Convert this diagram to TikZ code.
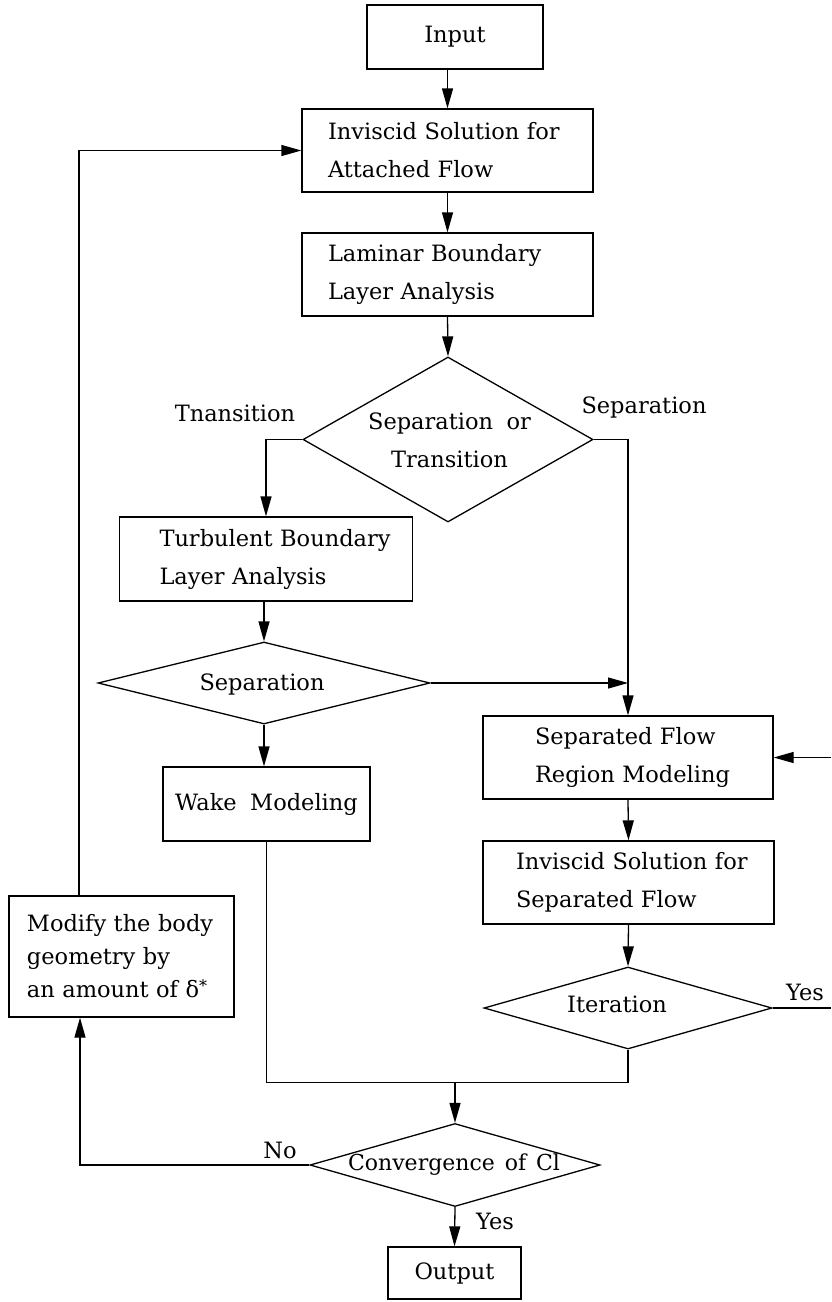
\documentclass[tikz,border=0pt]{standalone}
\usepackage{fontspec}
\newfontfamily\dserif{DejaVu Serif}
\usetikzlibrary{arrows.meta,shapes.geometric}
\newcommand\flowfont{\dserif\fontsize{22.5}{38}\selectfont\spaceskip=0.6em\relax}
\newcommand\flowfontb{\dserif\fontsize{22.5}{33}\selectfont\spaceskip=0.6em\relax}
\newcommand\flowfontc{\dserif\fontsize{22}{38}\selectfont\spaceskip=0.45em\relax}
\begin{document}
\begin{tikzpicture}[x=1pt,y=-1pt,
  box/.style={draw, line width=1.3pt, inner xsep=0pt, inner ysep=0pt, font=\flowfont, align=left},
  dia/.style={draw, diamond, line width=1.3pt, inner sep=0pt},
  lbl/.style={font=\flowfont, inner sep=0pt, align=center},
  arr/.style={line width=1.3pt, -{Triangle[length=20pt,width=11pt]}},
  ln/.style={line width=1.3pt}]
\useasboundingbox (0,0) rectangle (831,1302);
% boxes
\node[box, align=center, minimum width=176pt, minimum height=64pt] (inp) at (455,37) {Input};
\node[box, minimum width=291pt, minimum height=83pt, text width=239pt] (inv1) at (447.5,150.5)
  {\mbox{Inviscid Solution for}\\\mbox{Attached Flow}};
\node[box, minimum width=291pt, minimum height=83pt, text width=239pt] (lam) at (447.5,274.5)
  {\mbox{Laminar Boundary}\\\mbox{Layer Analysis}};
\node[box, minimum width=293pt, minimum height=84pt, text width=213pt] (turb) at (266,559)
  {\mbox{Turbulent Boundary}\\\mbox{Layer Analysis}};
\node[box, align=center, minimum width=207pt, minimum height=74pt] (wake) at (266.5,804) {Wake Modeling};
\node[box, minimum width=290pt, minimum height=83pt, text width=186pt] (sep) at (628,757.5)
  {\mbox{Separated Flow}\\\mbox{Region Modeling}};
\node[box, minimum width=291pt, minimum height=83pt, text width=225pt] (inv2) at (628.5,882.5)
  {\mbox{Inviscid Solution for}\\\mbox{Separated Flow}};
\node[box, font=\flowfontb, minimum width=225pt, minimum height=121pt, text width=189pt] (mod) at (121.5,956.5)
  {\mbox{Modify the body}\\\mbox{geometry by}\\\mbox{an amount of δ\raisebox{0.55ex}{\fontsize{16}{16}\selectfont*}}};
\node[box, align=center, minimum width=133pt, minimum height=52pt] (out) at (454.5,1273) {Output};
% diamonds
\node[dia, minimum width=290pt, minimum height=165pt] (d1) at (448,439.5) {};
\node[dia, minimum width=332pt, minimum height=82pt] (d2) at (264,683) {};
\node[dia, minimum width=288pt, minimum height=82pt] (it) at (628,1008) {};
\node[dia, minimum width=290pt, minimum height=83pt] (cv) at (455,1165) {};
\node[lbl] (d1t) at (449.5,440.5) {Separation or\\Transition};
\node[lbl] (d2t) at (262,684) {Separation};
\node[lbl] (itt) at (617,1004) {Iteration};
\node[lbl, font=\flowfontc] (cvt) at (454,1165) {Convergence of Cl};
% labels
\node[lbl] (ltr) at (235,413) {Tnansition};
\node[lbl] (lsp) at (644,407) {Separation};
\node[lbl] (lno) at (280,1150) {No};
\node[lbl] (lyi) at (805,992) {Yes};
\node[lbl] (lyc) at (495,1221) {Yes};
% free ends at the right edge
\coordinate (re1) at (831,1008);
\coordinate (re2) at (831,757.5);
\coordinate (mj) at (455,1082.5);
% connectors
\draw[arr] (inp.south -| inv1.north) -- (inv1.north);
\draw[arr] (inv1.south) -- (lam.north);
\draw[arr] (lam.south) -- (d1.north);
\draw[arr] (d1.west) -| (turb.north);
\draw[arr] (d1.east) -| (sep.north);
\draw[arr] (turb.south -| d2.north) -- (d2.north);
\draw[arr] (d2.south) -- (d2.south |- wake.north);
\draw[arr] (d2.east) -- (d2.east -| sep.north);
\draw[arr] (sep.south) -- (inv2.north);
\draw[arr] (inv2.south) -- (it.north);
\draw[ln] (it.east) -- (re1);
\draw[arr] (re2) -- (sep.east);
\draw[ln] (wake.south) |- (mj) -| (it.south);
\draw[arr] (mj) -- (cv.north);
\draw[arr] (cv.south) -- (out.north);
\draw[arr] (cv.west) -| ([xshift=-41.5pt]mod.south);
\draw[arr] ([xshift=-42.5pt]mod.north) |- (inv1.west);
\end{tikzpicture}
\end{document}
